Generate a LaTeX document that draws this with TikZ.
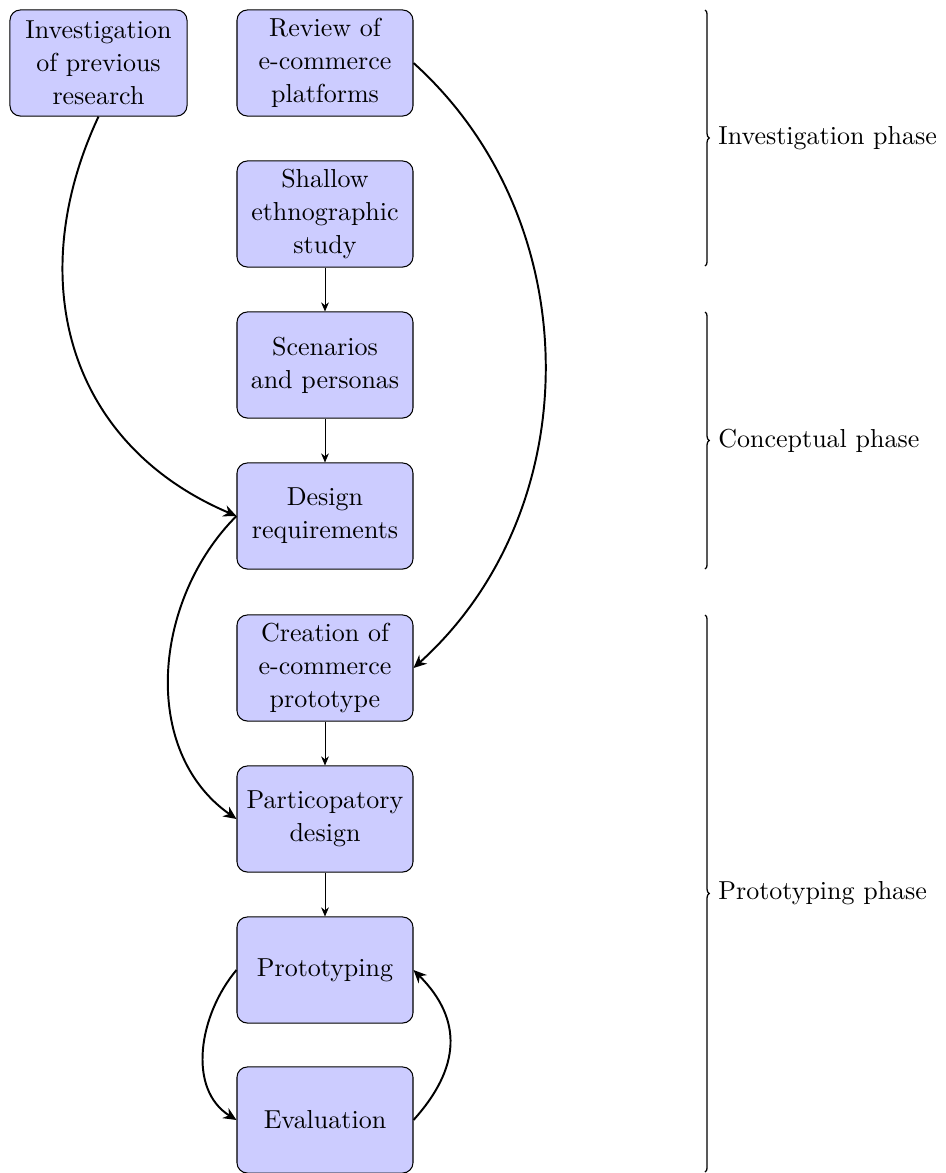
\documentclass[tikz,border=0pt]{standalone}
\usetikzlibrary{decorations.pathreplacing,arrows.meta}
\begin{document}
\begin{tikzpicture}[x=0.3846pt,y=0.3846pt,
  box/.style={draw=black, fill=blue!20, rounded corners=4pt, minimum width=67.7pt,
    minimum height=40.8pt, inner sep=2pt, align=center, font=\fontsize{10}{12.6}\selectfont},
  flow/.style={-{Stealth[length=3.5pt,width=3pt]}, line width=0.35pt},
  curve/.style={-{Stealth[length=5pt,width=4.5pt]}, line width=0.75pt},
  phase/.style={decorate, decoration={brace, amplitude=1.6pt}, line width=0.5pt},
  phaselabel/.style={anchor=west, inner sep=3.3pt}]
\useasboundingbox (0,0) rectangle (946,-1173);

\node[box, minimum width=68.1pt] (inv) at (98.5,-63) {Investigation\\of previous\\research};
\node[box] (rev) at (325,-63) {Review of\\e-commerce\\platforms};
\node[box] (sha) at (325,-214) {Shallow\\ethnographic\\study};
\node[box] (sce) at (325,-365) {Scenarios\\and personas};
\node[box] (des) at (325,-516) {Design\\requirements};
\node[box] (cre) at (325,-668) {Creation of\\e-commerce\\prototype};
\node[box] (par) at (325,-819) {Particopatory\\design};
\node[box] (pro) at (325,-970) {Prototyping};
\node[box] (eva) at (325,-1120) {Evaluation};

\draw[flow] (sha) -- (sce);
\draw[flow] (sce) -- (des);
\draw[flow] (cre) -- (par);
\draw[flow] (par) -- (pro);

\draw[curve] (inv.south) to[out=-115,in=157,looseness=1.1] (des.west);
\draw[curve] (rev.east) to[out=-42,in=42] (cre.east);
\draw[curve] (des.west) to[out=-135,in=145] (par.west);
\draw[curve] (pro.west) to[out=-130,in=148] (eva.west);
\draw[curve] (eva.east) to[out=48,in=-45,looseness=1.2] (pro.east);

\coordinate (b1t) at (705,-10);
\coordinate (b1b) at (705,-266);
\coordinate (b2t) at (705,-312);
\coordinate (b2b) at (705,-569);
\coordinate (b3t) at (705,-615);
\coordinate (b3b) at (705,-1172);
\draw[phase] (b1t) -- (b1b) node[midway, xshift=1.6pt, phaselabel] (l1) {Investigation phase};
\draw[phase] (b2t) -- (b2b) node[midway, xshift=1.6pt, phaselabel] (l2) {Conceptual phase};
\draw[phase] (b3t) -- (b3b) node[midway, xshift=1.6pt, phaselabel] (l3) {Prototyping phase};
\end{tikzpicture}
\end{document}
